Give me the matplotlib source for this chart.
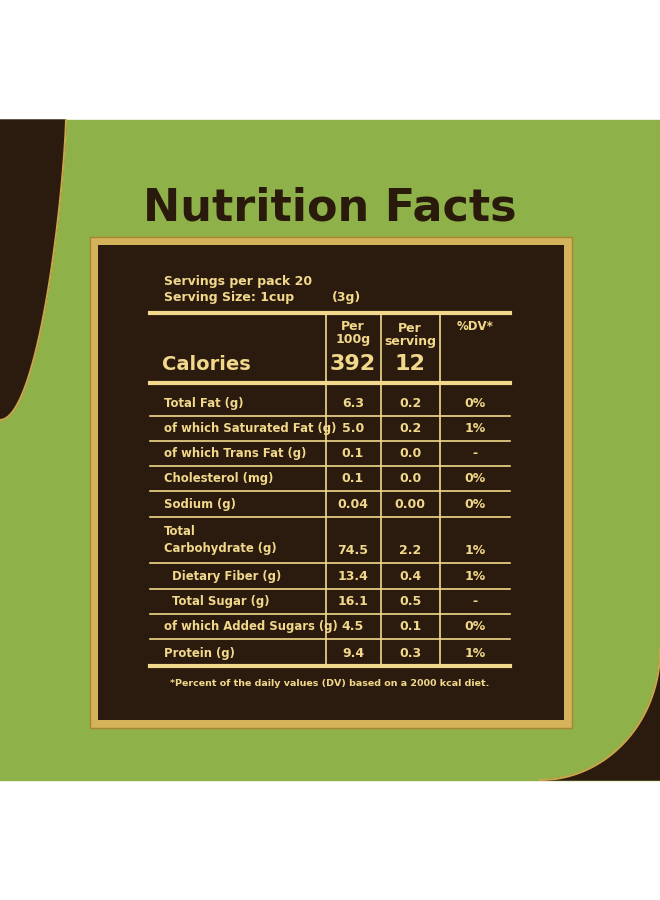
import numpy as np
import matplotlib.pyplot as plt
from matplotlib.patches import Rectangle, Polygon

row_names = ["Total Fat (g)", "of which Saturated Fat (g)", "of which Trans Fat (g)",
             "Cholesterol (mg)", "Sodium (g)", "Total\nCarbohydrate (g)", "  Dietary Fiber (g)",
             "  Total Sugar (g)", "of which Added Sugars (g)", "Protein (g)"]
per_100g = ["6.3", "5.0", "0.1", "0.1", "0.04", "74.5", "13.4", "16.1", "4.5", "9.4"]
per_serving = ["0.2", "0.2", "0.0", "0.0", "0.00", "2.2", "0.4", "0.5", "0.1", "0.3"]
dv = ["0%", "1%", "-", "0%", "0%", "1%", "1%", "-", "0%", "1%"]
row_bottoms = [416, 441, 466, 491, 517, 563, 589, 614, 639, 666]

GOLD = "#f2d88a"
BROWN = "#2b1b0f"
GREEN = "#8fb14a"

fig = plt.figure(figsize=(6.6, 9), dpi=100)
ax = fig.add_axes([0, 0, 1, 1])
ax.set_xlim(0, 660)
ax.set_ylim(900, 0)
ax.axis("off")

# background band
ax.add_patch(Rectangle((0, 120), 660, 660, color=GREEN, zorder=0))
t = np.linspace(0, np.pi / 2, 40)
left = [(0, 120), (66, 120)] + [(66 * np.cos(a), 120 + 300 * np.sin(a) ** 1.5) for a in t] + [(0, 420)]
ax.add_patch(Polygon(left, color=BROWN, zorder=1))
ax.plot([p[0] for p in left[1:-1]], [p[1] for p in left[1:-1]], color="#c9a64a", lw=1.5, zorder=2)
right = [(660, 780), (540, 780)] + [(540 + 120 * np.sin(a), 780 - 130 * (1 - np.cos(a))) for a in t] + [(660, 650)]
ax.add_patch(Polygon(right, color=BROWN, zorder=1))
ax.plot([p[0] for p in right[1:-1]], [p[1] for p in right[1:-1]], color="#c9a64a", lw=1.5, zorder=2)

ax.text(330, 208, "Nutrition Facts", ha="center", va="center", fontsize=32,
        fontweight="bold", color="#2a1a0c", family="DejaVu Sans")

# gold framed box
ax.add_patch(Rectangle((90, 237), 482, 491, facecolor="#d4b35a", edgecolor="#a8852e", lw=1, zorder=3))
ax.add_patch(Rectangle((98, 245), 466, 475, facecolor=BROWN, zorder=4))

kw = dict(color=GOLD, family="DejaVu Sans", fontweight="bold", zorder=6)
ax.text(164, 281, "Servings per pack 20", fontsize=9, va="center", **kw)
ax.text(164, 298, "Serving Size: 1cup", fontsize=9, va="center", **kw)
ax.text(332, 298, "(3g)", fontsize=9, va="center", **kw)

x0, x1, c1, c2, c3 = 150, 510, 326, 381, 440
ax.plot([x0, x1], [313, 313], color=GOLD, lw=3, zorder=5)
ax.plot([x0, x1], [383, 383], color=GOLD, lw=3, zorder=5)
for i, yb in enumerate(row_bottoms):
    ax.plot([x0, x1], [yb, yb], color=GOLD, lw=3 if i == len(row_bottoms) - 1 else 1.2, zorder=5)
for cx in (c1, c2, c3):
    ax.plot([cx, cx], [313, 666], color=GOLD, lw=1.2, zorder=5)

ax.text(162, 364, "Calories", fontsize=14, va="center", **kw)
ax.text(353, 333, "Per\n100g", fontsize=9, ha="center", va="center", linespacing=0.95, **kw)
ax.text(410, 335, "Per\nserving", fontsize=9, ha="center", va="center", linespacing=0.95, **kw)
ax.text(475, 326, "%DV*", fontsize=8.5, ha="center", va="center", **kw)
ax.text(353, 364, "392", fontsize=16, ha="center", va="center", **kw)
ax.text(410, 364, "12", fontsize=16, ha="center", va="center", **kw)

prev = 383
for name, a, b, d, yb in zip(row_names, per_100g, per_serving, dv, row_bottoms):
    yc = yb - 12.5
    if "\n" in name:
        ax.text(164, (prev + yb) / 2, name, fontsize=8.4, va="center", linespacing=1.4, **kw)
    else:
        ax.text(164, yc, name, fontsize=8.4, va="center", **kw)
    ax.text(353, yc, a, fontsize=9, ha="center", va="center", **kw)
    ax.text(410, yc, b, fontsize=9, ha="center", va="center", **kw)
    ax.text(475, yc, d, fontsize=9, ha="center", va="center", **kw)
    prev = yb

ax.text(330, 684, "*Percent of the daily values (DV) based on a 2000 kcal diet.",
        fontsize=6.8, ha="center", va="center", **kw)

fig.savefig("out.png", dpi=100)
